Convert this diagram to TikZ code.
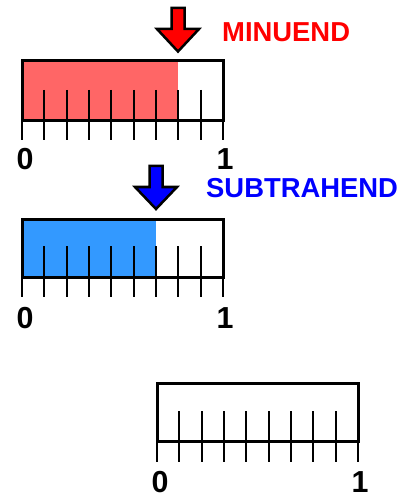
\documentclass[tikz,border=0pt]{standalone}
\usepackage{fontspec}
\setmainfont{Liberation Sans}
\definecolor{minfill}{RGB}{255,102,102}
\definecolor{subfill}{RGB}{51,153,255}
\definecolor{minred}{RGB}{255,0,0}
\definecolor{subblue}{RGB}{0,0,255}
\tikzset{
  barbox/.style={line width=3bp, line join=miter},
  tickline/.style={line width=2bp},
  digit/.style={font=\bfseries\fontsize{30.5}{30.5}\selectfont, anchor=base, inner sep=0pt},
  lab/.style={font=\bfseries\fontsize{27.5}{27.5}\selectfont, anchor=west, inner sep=0pt},
  arr/.style={line width=2.5bp, draw=black, line join=miter}
}
% #1 x0, #2 x1, #3 top, #4 bottom, #5 inner tick top, #6 lower tick bottom, #7 digit baseline, #8 fill to, #9 fill colour
\newcommand{\mynumline}[9]{%
  \ifx\relax#9\relax\else
    \fill[#9] (#1,#3) rectangle (#8,#4);
  \fi
  \foreach \i in {1,...,8}{
    \draw[tickline] ({#1+\i*(#2-#1)/9},#5) -- ({#1+\i*(#2-#1)/9},#4);
  }
  \foreach \i in {0,...,9}{
    \draw[tickline] ({#1+\i*(#2-#1)/9},#4) -- ({#1+\i*(#2-#1)/9},#6);
  }
  \draw[barbox] (#1,#3) rectangle (#2,#4);
}
\newcommand{\mydownarrow}[5]{% #1 tip x, #2 tip y, #3 head y, #4 top y, #5 colour
  \filldraw[arr, fill=#5] (#1,#2) -- ({#1-21},#3) -- ({#1-6.5},#3) -- ({#1-6.5},#4)
    -- ({#1+6.5},#4) -- ({#1+6.5},#3) -- ({#1+21},#3) -- cycle;
}
\begin{document}
\begin{tikzpicture}[x=1bp, y=-1bp]
  \useasboundingbox (0,0) rectangle (409,498);
  % minuend
  \mynumline{22}{223}{61}{121}{90}{140}{170}{178.3}{minfill}
  \node[digit] (m0) at (25,170) {0};
  \node[digit] (m1) at (225,170) {1};
  \mydownarrow{178}{51.5}{29}{8}{minred}
  \node[lab, text=minred] (mlab) at (222,32) {MINUEND};
  % subtrahend
  \mynumline{22}{223}{219}{277}{246}{297}{328}{156}{subfill}
  \node[digit] (s0) at (25,328) {0};
  \node[digit] (s1) at (225,328) {1};
  \mydownarrow{156}{209}{187}{166}{subblue}
  \node[lab, text=subblue] (slab) at (206,188) {SUBTRAHEND};
  % difference
  \mynumline{157}{358}{383}{441}{411}{462}{492}{157}{}
  \node[digit] (d0) at (160,492) {0};
  \node[digit] (d1) at (360,492) {1};
\end{tikzpicture}
\end{document}
